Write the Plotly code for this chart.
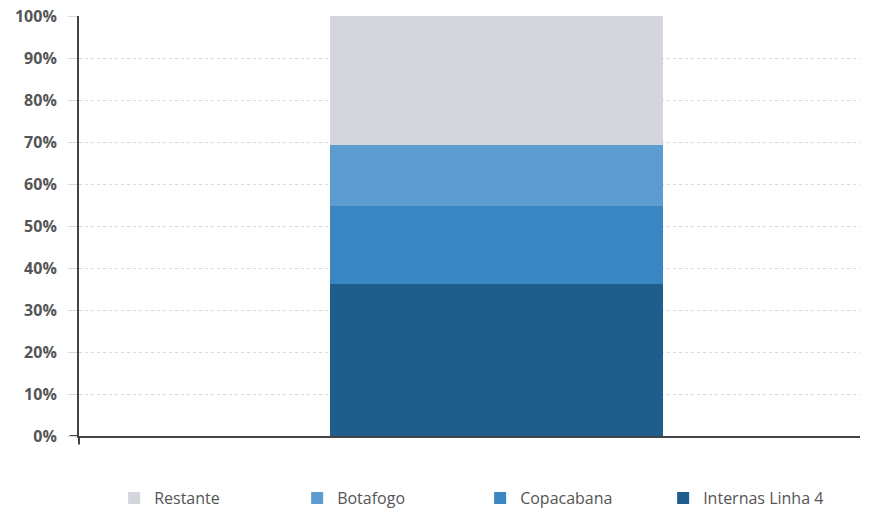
import plotly.graph_objects as go

category = ["Total"]
series_names = ["Internas Linha 4", "Copacabana", "Botafogo", "Restante"]
series_values = [[36.1], [18.6], [14.7], [30.6]]
series_colors = ["#1f5d8c", "#3a86c3", "#5c9cd0", "#d4d6dd"]
tick_vals = [0, 10, 20, 30, 40, 50, 60, 70, 80, 90, 100]
tick_text = [f"{v}%" for v in tick_vals]

fig = go.Figure()
for name, vals, col in zip(series_names, series_values, series_colors):
    fig.add_trace(go.Bar(
        x=category, y=vals, name=name, marker=dict(color=col, line=dict(width=0)),
        width=1,
    ))

fig.update_layout(
    barmode="stack",
    width=874, height=511,
    margin=dict(l=79, r=14, t=16, b=75, autoexpand=False),
    paper_bgcolor="white", plot_bgcolor="white",
    font=dict(family="Open Sans", color="#555555"),
    showlegend=True,
    legend=dict(
        orientation="h", traceorder="reversed",
        x=0.045, xanchor="left", y=-0.148, yanchor="middle",
        font=dict(size=16, color="#555555"),
        entrywidth=138, entrywidthmode="pixels",
        itemclick=False,
    ),
    xaxis=dict(
        range=[-1.2535, 1.0917], showticklabels=False, showgrid=False,
        zeroline=False, showline=True, linecolor="#444444", linewidth=2,
        ticks="",
    ),
    yaxis=dict(
        range=[0, 100], tickvals=tick_vals, ticktext=tick_text,
        showgrid=True, gridcolor="#d8d8e0", gridwidth=1, griddash="dot",
        zeroline=False, showline=True, linecolor="#444444", linewidth=2,
        ticks="outside", ticklen=9, tickcolor="#d8d8e0",
        ticklabelstandoff=8,
        tickfont=dict(family="Open Sans", size=16, color="#555555", weight=700),
    ),
)

# small axis line extensions below/left of origin
fig.add_shape(type="line", xref="x domain", yref="y", x0=-0.012, x1=0, y0=0, y1=0,
              line=dict(color="#444444", width=2))
fig.add_shape(type="line", xref="x domain", yref="y domain", x0=0, x1=0, y0=0, y1=-0.02,
              line=dict(color="#444444", width=2))

fig.write_html("out.html")
